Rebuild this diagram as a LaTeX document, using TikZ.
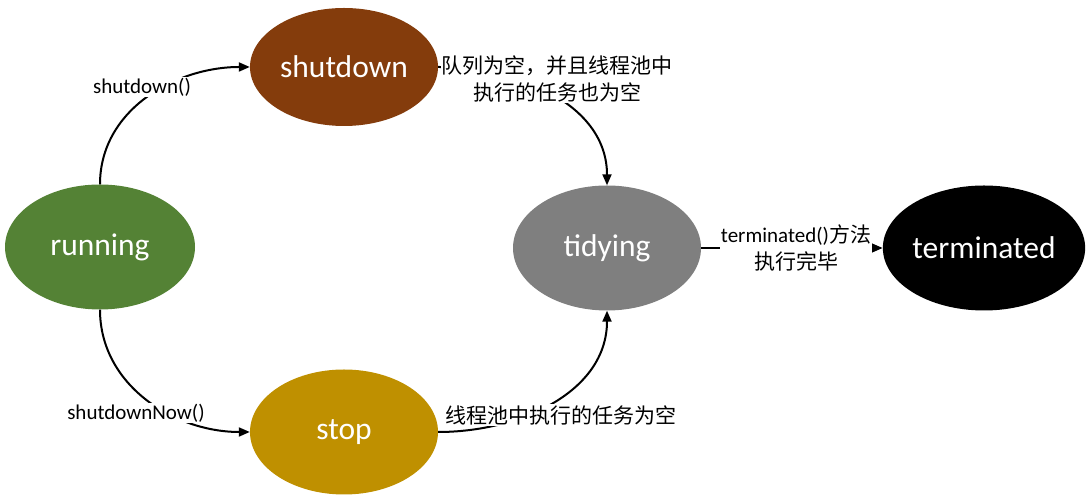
\documentclass[tikz,border=0pt]{standalone}
\usepackage{fontspec}
\setmainfont{Carlito}
\newfontfamily\cjk{Noto Sans CJK SC}
\usetikzlibrary{shapes.geometric,arrows.meta}
\definecolor{crun}{HTML}{548235}
\definecolor{cshut}{HTML}{843C0C}
\definecolor{cstop}{HTML}{BF9000}
\definecolor{ctidy}{HTML}{7F7F7F}
\tikzset{
  state/.style={ellipse, inner sep=0pt, text=white, font=\fontsize{31.5}{36}\selectfont},
  conn/.style={line width=2pt, -{Triangle[length=11pt,width=9pt]}},
  lbl/.style={fill=white, inner sep=1pt, align=center, font=\fontsize{21}{26.5}\selectfont},
}
\begin{document}
\begin{tikzpicture}[x=1pt,y=1pt]
\useasboundingbox (0,0) rectangle (1086,502);
\node[state, fill=crun, minimum width=190pt, minimum height=125pt] (running) at (100,255) {running};
\node[state, fill=cshut, minimum width=188pt, minimum height=118pt] (shutdown) at (344,435) {shutdown};
\node[state, fill=cstop, minimum width=188pt, minimum height=125pt] (stop) at (344,70) {stop};
\node[state, fill=ctidy, minimum width=188pt, minimum height=125pt] (tidying) at (607,254) {tidying};
\node[state, fill=black, minimum width=192pt, minimum height=125pt] (terminated) at (984,254) {terminated};

\draw[conn] (running.north) to[out=90,in=180] (shutdown.west);
\draw[conn] (running.south) to[out=-90,in=180] (stop.west);
\draw[conn] (shutdown.east) to[out=0,in=90] (tidying.north);
\draw[conn] (stop.east) to[out=0,in=-90] (tidying.south);
\draw[conn] (tidying.east) -- (terminated.west);

\node[lbl] (l1) at (142,415) {shutdown()};
\node[lbl] (l2) at (136,89) {shutdownNow()};
\node[lbl] (l3) at (557,423) {{\cjk 队列为空，并且线程池中}\\{\cjk 执行的任务也为空}};
\node[lbl] (l4) at (561,87) {\cjk 线程池中执行的任务为空};
\node[lbl] (l5) at (796,254) {terminated(){\cjk 方法}\\{\cjk 执行完毕}};
\end{tikzpicture}
\end{document}
